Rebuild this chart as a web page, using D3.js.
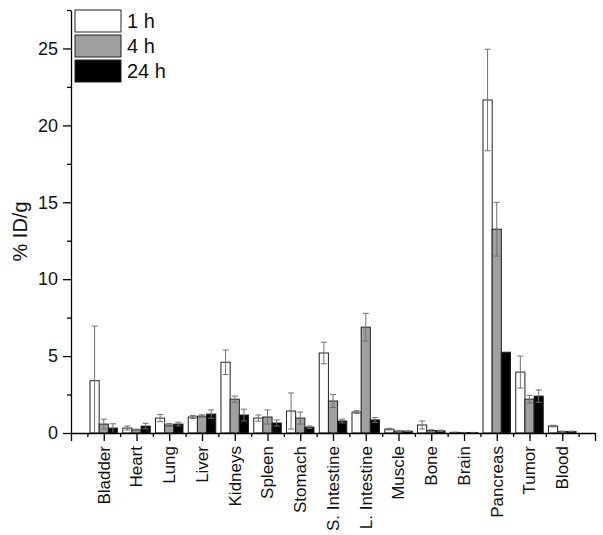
<!DOCTYPE html>
<html>
<head>
<meta charset="utf-8">
<script src="https://cdn.jsdelivr.net/npm/d3@7"></script>
<style>
  body { margin: 0; background: #fff; }
  svg { font-family: "Liberation Sans", Arial, sans-serif; }
</style>
</head>
<body>
<div id="chart"></div>
<script>
// organ names along the x axis
const organs = ["Bladder", "Heart", "Lung", "Liver", "Kidneys", "Spleen", "Stomach",
  "S. Intestine", "L. Intestine", "Muscle", "Bone", "Brain", "Pancreas", "Tumor", "Blood"];

// %ID/g means at each time point
const h1 = [3.4, 0.32, 0.97, 1.04, 4.6, 0.97, 1.43, 5.2, 1.36, 0.25, 0.52, 0.04, 21.65, 3.96, 0.45];
const h4 = [0.58, 0.2, 0.52, 1.1, 2.2, 1.04, 0.97, 2.08, 6.88, 0.12, 0.16, 0.03, 13.25, 2.2, 0.1];
const h24 = [0.32, 0.45, 0.58, 1.23, 1.17, 0.65, 0.38, 0.78, 0.85, 0.12, 0.14, 0.03, 5.25, 2.4, 0.1];

// standard deviations
const e1 = [3.55, 0.13, 0.23, 0.1, 0.8, 0.2, 1.17, 0.7, 0.09, 0.05, 0.26, 0.01, 3.3, 1.04, 0.05];
const e4 = [0.32, 0.05, 0.1, 0.08, 0.2, 0.46, 0.39, 0.42, 0.9, 0.03, 0.05, 0.01, 1.75, 0.25, 0.02];
const e24 = [0.28, 0.18, 0.12, 0.27, 0.38, 0.2, 0.08, 0.12, 0.15, 0.02, 0.04, 0.01, 0, 0.4, 0.02];

const seriesNames = ["1 h", "4 h", "24 h"];
const yTicks = [0, 5, 10, 15, 20, 25];

const width = 603;
const height = 535;

const svg = d3.select("#chart")
  .append("svg")
  .attr("width", width)
  .attr("height", height);

const x = d3.scaleLinear()
  .domain([0, organs.length + 1])
  .range([71, 595]);

const y = d3.scaleLinear()
  .domain([0, 27.5])
  .range([433, 10]);

const fills = ["#ffffff", "#a0a0a0", "#000000"];
const offsets = [-0.28, 0, 0.28];
const barW = x(0.28) - x(0);

const series = [h1, h4, h24].map((vals, s) => vals.map((v, i) => ({
  i: i, s: s, v: v, e: [e1, e4, e24][s][i]
})));

// bars
const groups = svg.append("g");
series.forEach((data, s) => {
  groups.selectAll(".bar" + s)
    .data(data)
    .join("rect")
    .attr("class", "bar" + s)
    .attr("x", d => x(d.i + 1 + offsets[s]) - barW / 2)
    .attr("y", d => y(d.v))
    .attr("width", barW)
    .attr("height", d => y(0) - y(d.v))
    .attr("fill", fills[s])
    .attr("stroke", "#222")
    .attr("stroke-width", 1);
});

// error bars (drawn over bars, lower half clipped at zero)
const errG = svg.append("g")
  .attr("stroke", "#707070")
  .attr("stroke-width", 1);
const capW = 3;
series.forEach((data, s) => {
  const withErr = data.filter(d => d.e > 0);
  errG.selectAll(".eline" + s)
    .data(withErr)
    .join("line")
    .attr("x1", d => x(d.i + 1 + offsets[s]))
    .attr("x2", d => x(d.i + 1 + offsets[s]))
    .attr("y1", d => y(Math.max(0, d.v - d.e)))
    .attr("y2", d => y(d.v + d.e));
  errG.selectAll(".ecap" + s)
    .data(withErr)
    .join("line")
    .attr("x1", d => x(d.i + 1 + offsets[s]) - capW)
    .attr("x2", d => x(d.i + 1 + offsets[s]) + capW)
    .attr("y1", d => y(d.v + d.e))
    .attr("y2", d => y(d.v + d.e));
  errG.selectAll(".elow" + s)
    .data(withErr.filter(d => d.v - d.e > 0.05))
    .join("line")
    .attr("x1", d => x(d.i + 1 + offsets[s]) - capW)
    .attr("x2", d => x(d.i + 1 + offsets[s]) + capW)
    .attr("y1", d => y(d.v - d.e))
    .attr("y2", d => y(d.v - d.e));
});

// x axis
const xMajor = d3.range(0, organs.length + 2);
const xMinor = d3.range(0.5, organs.length + 1, 1);
svg.append("g")
  .attr("transform", `translate(0,${y(0)})`)
  .call(d3.axisBottom(x).tickValues(xMinor).tickSize(4).tickFormat(""))
  .call(g => g.select(".domain").remove())
  .selectAll("line").attr("stroke-width", 1.3);
const xAxis = svg.append("g")
  .attr("transform", `translate(0,${y(0)})`)
  .call(d3.axisBottom(x).tickValues(xMajor).tickSize(8).tickSizeOuter(0).tickFormat(""));
xAxis.selectAll("line, path").attr("stroke-width", 1.3);

svg.append("g")
  .selectAll("text")
  .data(organs)
  .join("text")
  .attr("transform", (d, i) => `translate(${x(i + 1)},${y(0) + 13}) rotate(-90)`)
  .attr("dy", "0.35em")
  .attr("text-anchor", "end")
  .style("font-size", "17px")
  .attr("fill", "#111")
  .text(d => d);

// y axis
svg.append("g")
  .attr("transform", `translate(${x(0)},0)`)
  .call(d3.axisLeft(y).tickValues(d3.range(2.5, 28, 5)).tickSize(4).tickFormat(""))
  .call(g => g.select(".domain").remove())
  .selectAll("line").attr("stroke-width", 1.3);
const yAxis = svg.append("g")
  .attr("transform", `translate(${x(0)},0)`)
  .call(d3.axisLeft(y).tickValues(yTicks).tickSize(8).tickSizeOuter(0).tickPadding(5));
yAxis.selectAll("line, path").attr("stroke-width", 1.3);
yAxis.selectAll("text")
  .style("font-size", "18px")
  .style("font-family", "Liberation Sans, Arial, sans-serif")
  .attr("fill", "#111");

svg.append("text")
  .attr("transform", `translate(27,${(y(0) + y(27.5)) / 2 + 10}) rotate(-90)`)
  .attr("text-anchor", "middle")
  .style("font-size", "20px")
  .attr("fill", "#111")
  .text("% ID/g");

// legend
const legend = svg.append("g");
legend.selectAll("rect")
  .data(seriesNames)
  .join("rect")
  .attr("x", 75)
  .attr("y", (d, i) => 10 + i * 25)
  .attr("width", 46)
  .attr("height", 22)
  .attr("fill", (d, i) => fills[i])
  .attr("stroke", "#222")
  .attr("stroke-width", 1);
legend.selectAll("text")
  .data(seriesNames)
  .join("text")
  .attr("x", 127)
  .attr("y", (d, i) => 21 + i * 25)
  .attr("dy", "0.35em")
  .style("font-size", "20px")
  .attr("fill", "#111")
  .text(d => d);
</script>
</body>
</html>
